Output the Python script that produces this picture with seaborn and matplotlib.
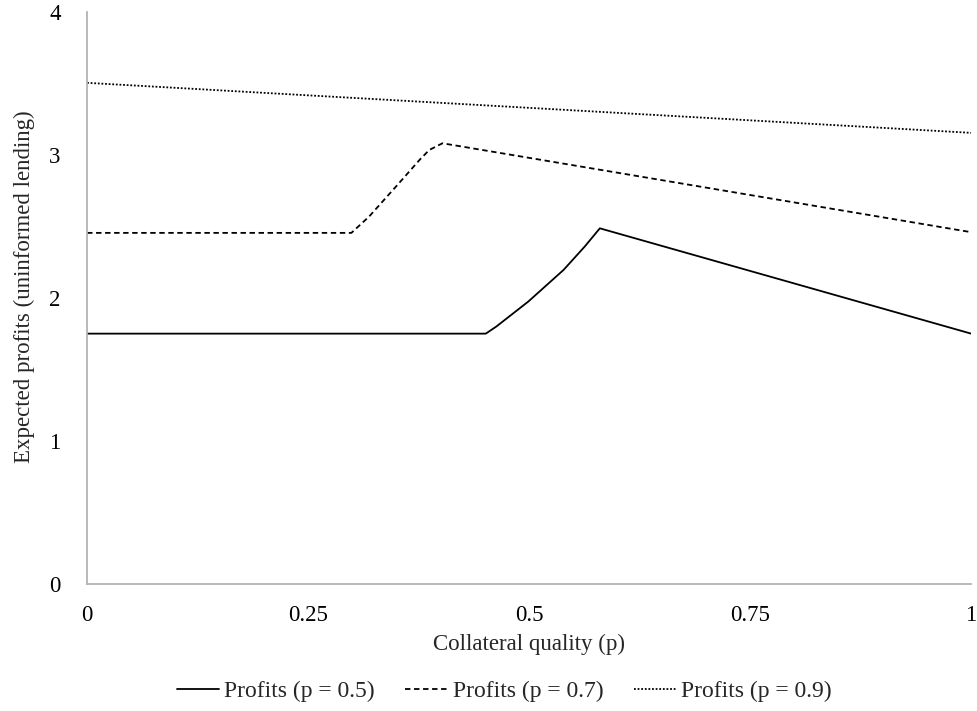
import matplotlib
matplotlib.use("Agg")
import matplotlib.pyplot as plt
import seaborn as sns
import pandas as pd

# Values
x_p05 = [0.0, 0.451, 0.463, 0.499, 0.539, 0.563, 0.580, 1.0]
y_p05 = [1.75, 1.75, 1.80, 1.974, 2.196, 2.36, 2.487, 1.75]

x_p07 = [0.0, 0.299, 0.319, 0.351, 0.376, 0.387, 0.402, 1.0]
y_p07 = [2.455, 2.455, 2.569, 2.79, 2.965, 3.035, 3.082, 2.46]

x_p09 = [0.0, 1.0]
y_p09 = [3.505, 3.155]

labels = ["Profits (p = 0.5)", "Profits (p = 0.7)", "Profits (p = 0.9)"]
x_ticks = [0, 0.25, 0.5, 0.75, 1]
x_ticklabels = ["0", "0.25", "0.5", "0.75", "1"]
y_ticks = [0, 1, 2, 3, 4]

sns.set_style("white")
plt.rcParams["font.family"] = ["Liberation Serif", "DejaVu Serif"]
fs = 16.5

fig = plt.figure(figsize=(9.78, 7.11), dpi=100)
ax = fig.add_axes([0.089, 0.179, 0.904, 0.804])

series = [(x_p05, y_p05, "-"), (x_p07, y_p07, (0, (3, 2))), (x_p09, y_p09, (0, (1, 1)))]
for (xs, ys, ls), lab in zip(series, labels):
    df = pd.DataFrame({"x": xs, "y": ys})
    sns.lineplot(data=df, x="x", y="y", ax=ax, color="black", linestyle=ls,
                 linewidth=1.3, label=lab, sort=False)

ax.set_xlim(0, 1)
ax.set_ylim(0, 4)
ax.set_xticks(x_ticks)
ax.set_xticklabels(x_ticklabels)
ax.set_yticks(y_ticks)
ax.tick_params(axis="both", length=0, labelsize=fs, colors="black")
ax.tick_params(axis="x", pad=15)
ax.tick_params(axis="y", pad=19)

for side in ["top", "right"]:
    ax.spines[side].set_visible(False)
for side in ["left", "bottom"]:
    ax.spines[side].set_color("#b3b3b3")
    ax.spines[side].set_linewidth(1.3)

ax.set_xlabel("Collateral quality (p)", fontsize=fs, labelpad=6)
ax.set_ylabel("Expected profits (uninformed lending)", fontsize=fs)
ax.yaxis.set_label_coords(-0.059, 0.52)

ax.legend(loc="center", bbox_to_anchor=(0.472, -0.188), ncol=3, frameon=False,
          fontsize=17, handlelength=1.8, handletextpad=0.2, columnspacing=1.3)

fig.savefig("out.png", dpi=100)
